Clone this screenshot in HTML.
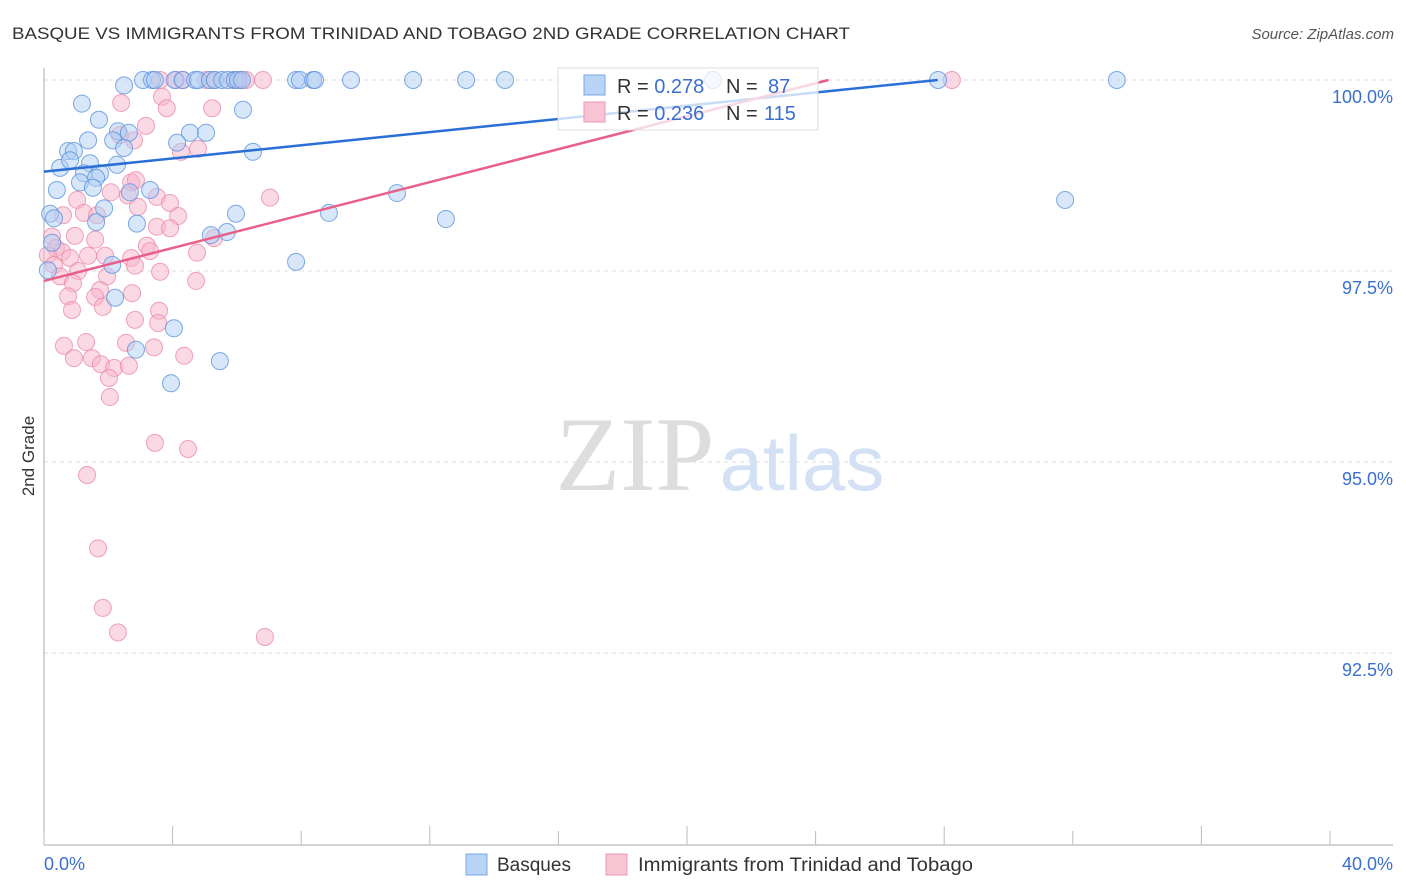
<!DOCTYPE html>
<html><head><meta charset="utf-8">
<style>
body{margin:0;background:#fff;font-family:"Liberation Sans",sans-serif;}
svg{display:block}
</style></head>
<body>
<svg id="chart" width="1406" height="892" xmlns="http://www.w3.org/2000/svg">
<text x="12" y="39" font-size="17" fill="#333" textLength="838" lengthAdjust="spacingAndGlyphs">BASQUE VS IMMIGRANTS FROM TRINIDAD AND TOBAGO 2ND GRADE CORRELATION CHART</text>
<text x="1394" y="39" font-size="15" fill="#555" text-anchor="end" font-style="italic">Source: ZipAtlas.com</text>
<text transform="translate(34,456) rotate(-90)" font-size="17" fill="#333" text-anchor="middle">2nd Grade</text>
<g>
<text x="635" y="490" font-size="106" fill="#ddd" font-family="Liberation Serif" text-anchor="middle">ZIP</text>
<text x="802" y="490" font-size="78" fill="#d4e1f5" text-anchor="middle">atlas</text>
</g>
<g id="grid"></g>
<g id="axes"></g>
<g id="pts"></g>
<g id="lines"></g>
<g>
<rect x="558" y="68" width="260" height="62" fill="#fff" fill-opacity="0.75" stroke="#ddd"/>
<rect x="584" y="75" width="21" height="20" fill="#b8d3f5" stroke="#7aa8e8"/>
<rect x="584" y="102" width="21" height="20" fill="#f8c4d4" stroke="#ef95b2"/>
<text x="617" y="93" font-size="20" fill="#333">R = <tspan fill="#3a6fd0">0.278</tspan><tspan x="726">N = </tspan><tspan x="768" fill="#3a6fd0">87</tspan></text>
<text x="617" y="120" font-size="20" fill="#333">R = <tspan fill="#3a6fd0">0.236</tspan><tspan x="726">N = </tspan><tspan x="764" fill="#3a6fd0">115</tspan></text>
</g>
<g>
<rect x="466" y="854" width="21" height="21" fill="#b8d3f5" stroke="#7aa8e8"/>
<text x="497" y="871" font-size="19" fill="#333">Basques</text>
<rect x="606" y="854" width="21" height="21" fill="#f8c4d4" stroke="#ef95b2"/>
<text x="638" y="871" font-size="19" fill="#333" textLength="335" lengthAdjust="spacingAndGlyphs">Immigrants from Trinidad and Tobago</text>
</g>
</svg>
<script>
const yTicks=[100,97.5,95,92.5];
const yTickLabels=["100.0%","97.5%","95.0%","92.5%"];
const xTickVals=[0,4,8,12,16,20,24,28,32,36,40];
const xEndLabels=["0.0%","40.0%"];
const blueX=[3.08,3.36,3.45,4.07,4.32,4.70,4.79,5.16,5.32,5.54,5.72,5.94,6.03,6.16,7.84,7.96,8.37,8.43,9.55,11.48,13.13,14.34,20.81,27.81,33.37,
2.49,1.18,1.71,6.19,2.30,2.64,4.54,5.04,1.37,2.15,4.14,2.49,0.75,0.93,6.50,1.43,2.27,0.50,0.81,1.24,1.74,1.62,1.12,0.40,1.52,3.30,2.67,1.87,10.98,31.76,0.19,0.31,5.97,8.86,12.50,2.89,1.62,5.69,5.19,7.84,2.12,2.21,4.04,2.86,5.47,3.95,0.12,0.25];
const blueY=[100,100,100,100,100,100,100,100,100,100,100,100,100,100,100,100,100,100,100,100,100,100,100,100,100,
99.93,99.69,99.48,99.61,99.33,99.31,99.31,99.31,99.21,99.21,99.18,99.11,99.07,99.07,99.06,98.91,98.89,98.85,98.95,98.78,98.78,98.72,98.66,98.56,98.59,98.56,98.53,98.32,98.52,98.43,98.25,98.19,98.25,98.26,98.18,98.12,98.14,98.01,97.97,97.62,97.58,97.15,96.75,96.47,96.32,96.03,97.51,97.87];
const pinkX=[3.61,4.11,4.29,5.04,5.29,5.88,6.10,6.28,6.81,28.24,
2.40,3.67,3.82,5.23,3.17,2.80,4.26,4.79,2.36,7.03,2.71,2.86,2.08,2.61,3.51,3.92,2.92,4.17,1.03,1.24,1.65,0.59,3.51,3.92,5.29,0.96,1.59,3.20,3.30,4.76,0.25,0.37,0.56,0.81,0.12,0.31,1.37,1.90,2.71,2.83,1.06,0.50,1.96,3.61,4.73,0.90,1.74,0.75,1.59,1.83,0.87,2.74,3.58,2.83,3.55,1.31,0.62,0.93,2.55,3.42,4.36,1.49,1.77,2.18,2.64,2.02,2.05,3.45,4.48,1.34,1.68,1.83,2.30,6.87];
const pinkY=[100,100,100,100,100,100,100,100,100,100,
99.70,99.78,99.63,99.63,99.40,99.21,99.06,99.10,99.28,98.46,98.66,98.69,98.53,98.49,98.47,98.39,98.34,98.22,98.43,98.26,98.23,98.23,98.08,98.06,97.93,97.96,97.91,97.83,97.76,97.74,97.95,97.80,97.75,97.67,97.71,97.58,97.70,97.70,97.67,97.57,97.50,97.43,97.43,97.49,97.37,97.34,97.25,97.17,97.16,97.03,96.99,97.21,96.98,96.86,96.82,96.57,96.52,96.36,96.56,96.50,96.39,96.36,96.28,96.23,96.26,96.10,95.85,95.25,95.17,94.83,93.87,93.09,92.77,92.71];
const blueLine=[[0,98.8],[27.8,100]];
const pinkLine=[[0,97.37],[24.4,100]];
const NS="http://www.w3.org/2000/svg";
const xs=v=>44+v*32.15;
const ys=v=>80+(100-v)*76.4;
function mk(tag,attrs,parent){const e=document.createElementNS(NS,tag);for(const k in attrs)e.setAttribute(k,attrs[k]);parent.appendChild(e);return e;}
const grid=document.getElementById('grid'),axes=document.getElementById('axes'),pts=document.getElementById('pts'),lines=document.getElementById('lines');
yTicks.forEach((t,i)=>{
 const l=mk('line',{x1:44,x2:1393,y1:ys(t),y2:ys(t),stroke:'#ddd','stroke-dasharray':'4,4'},grid);
 
 
 const tx=mk('text',{x:1393,y:ys(t)+23,'font-size':18,fill:'#3a6fd0','text-anchor':'end'},axes);
 tx.textContent=yTickLabels[i];
 
 
});
const ax=mk('line',{x1:44,x2:44,y1:68,y2:845,stroke:'#aaa'},axes);


const bx=mk('line',{x1:44,x2:1393,y1:845,y2:845,stroke:'#aaa'},axes);


xTickVals.forEach((t,i)=>{
 const tk=mk('line',{x1:xs(t),x2:xs(t),y1:(i%2?826:831),y2:845,stroke:'#bbb'},axes);
 
 
});
const l0=mk('text',{x:44,y:870,'font-size':18,fill:'#3a6fd0'},axes);l0.textContent=xEndLabels[0];


const l1=mk('text',{x:1393,y:870,'font-size':18,fill:'#3a6fd0','text-anchor':'end'},axes);l1.textContent=xEndLabels[1];


function dots(X,Y,fill,stroke,name){X.forEach((x,i)=>{
 const c=mk('circle',{cx:xs(x),cy:ys(Y[i]),r:8.5,fill:fill,'fill-opacity':0.5,stroke:stroke,'stroke-opacity':0.8,'stroke-width':1},pts);
 
 
});}
dots(pinkX,pinkY,'#f8b4ca','#ec8aaa','immigrant-point');
dots(blueX,blueY,'#b0cdf3','#5b93e0','basque-point');
const bl=mk('line',{x1:xs(blueLine[0][0]),y1:ys(blueLine[0][1]),x2:xs(blueLine[1][0]),y2:ys(blueLine[1][1]),stroke:'#2a6fd6','stroke-width':2.5},lines);


const pl=mk('line',{x1:xs(pinkLine[0][0]),y1:ys(pinkLine[0][1]),x2:xs(pinkLine[1][0]),y2:ys(pinkLine[1][1]),stroke:'#e8608a','stroke-width':2.5},lines);


</script>
</body></html>
